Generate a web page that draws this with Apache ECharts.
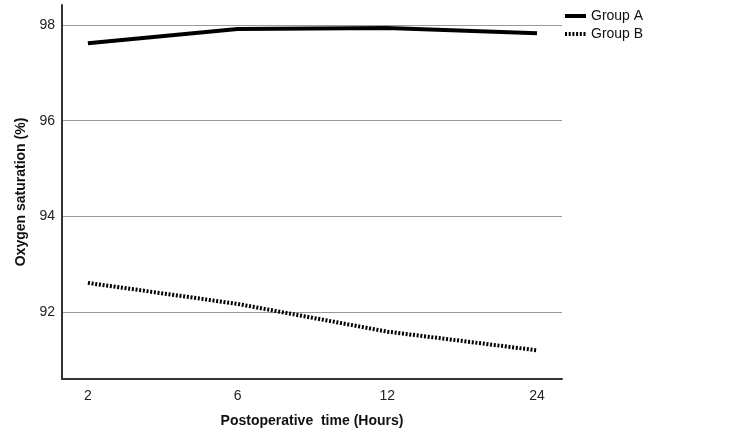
<!DOCTYPE html>
<html>
<head>
<meta charset="utf-8">
<script src="https://cdn.jsdelivr.net/npm/echarts@6/dist/echarts.min.js"></script>
<style>
  html, body { margin: 0; padding: 0; background: #fff; }
  #chart { width: 750px; height: 442px; }
</style>
</head>
<body>
<div id="chart"></div>
<script>
// postoperative time points (hours)
const hours = ['2', '6', '12', '24'];
const yTicks = [92, 94, 96, 98];
const groupA = [97.62, 97.92, 97.94, 97.83];
const groupB = [92.61, 92.17, 91.59, 91.20];

const toPoints = vals => vals.map((v, i) => [i, v]);
const font = 'Liberation Sans, Arial, sans-serif';

const chart = echarts.init(document.getElementById('chart'));
chart.setOption({
  animation: false,
  backgroundColor: '#fff',
  grid: { left: 62, right: 188, top: 5, bottom: 63 },
  legend: {
    orient: 'vertical',
    left: 558, top: 4,
    itemWidth: 21, itemHeight: 10, itemGap: 4,
    itemStyle: { opacity: 0 },
    lineStyle: { width: 4 },
    textStyle: { fontFamily: font, fontSize: 14, color: '#111' },
    data: ['Group A', 'Group B']
  },
  xAxis: {
    type: 'value',
    min: -0.173, max: 3.167,
    name: 'Postoperative  time (Hours)',
    nameLocation: 'middle',
    nameGap: 35,
    nameTextStyle: { fontFamily: font, fontSize: 14, fontWeight: 'bold', color: '#111' },
    axisLine: { onZero: false, lineStyle: { color: '#333', width: 2 } },
    axisTick: { show: false },
    splitLine: { show: false },
    axisLabel: {
      customValues: [0, 1, 2, 3],
      formatter: v => hours[Math.round(v)],
      margin: 10,
      fontFamily: font, fontSize: 14, color: '#222'
    }
  },
  yAxis: {
    type: 'value',
    min: 90.6, max: 98.42,
    name: 'Oxygen saturation (%)',
    nameLocation: 'middle',
    nameGap: 29,
    nameTextStyle: { fontFamily: font, fontSize: 14, fontWeight: 'bold', color: '#111' },
    axisLine: { show: true, onZero: false, lineStyle: { color: '#333', width: 2 } },
    axisTick: { show: false, customValues: yTicks },
    axisLabel: {
      customValues: yTicks,
      margin: 7,
      fontFamily: font, fontSize: 14, color: '#222'
    },
    splitLine: { show: true, lineStyle: { color: '#999', width: 1 } }
  },
  series: [
    {
      name: 'Group A', type: 'line', symbol: 'none',
      data: toPoints(groupA),
      lineStyle: { color: '#000', width: 4, type: 'solid' },
      itemStyle: { color: '#000' }
    },
    {
      name: 'Group B', type: 'line', symbol: 'none',
      data: toPoints(groupB),
      lineStyle: { color: '#000', width: 4, type: [2, 1.7] },
      itemStyle: { color: '#000' }
    }
  ]
});
</script>
</body>
</html>
